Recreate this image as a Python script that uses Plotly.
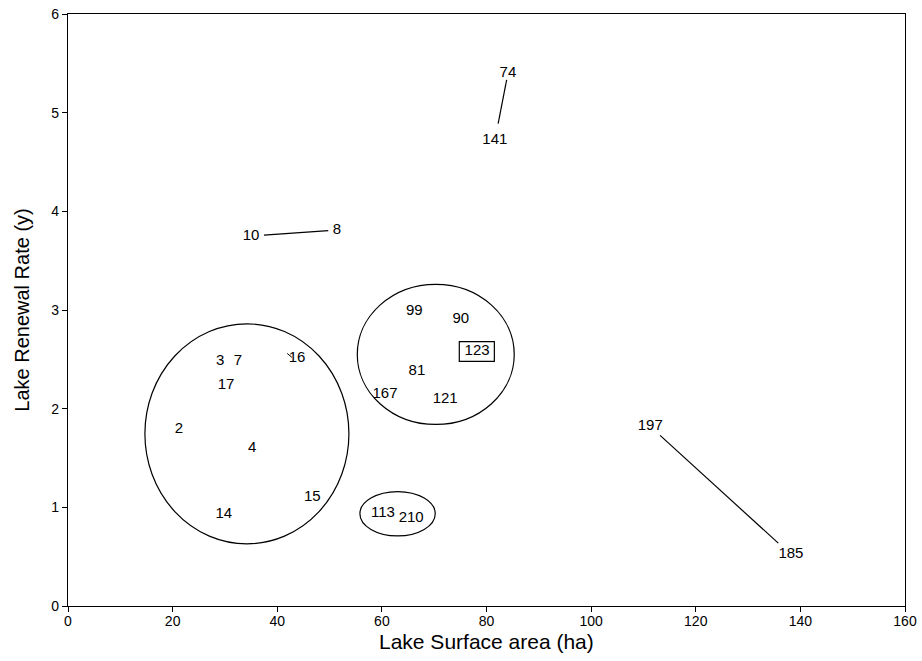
import plotly.graph_objects as go

# Lake labels and positions (surface area in ha, renewal rate in y)
lake_ids = ["74", "141", "10", "8", "99", "90", "123", "81", "167", "121",
            "3", "7", "16", "17", "2", "4", "15", "14", "113", "210", "197", "185"]
area_ha = [84.1, 81.6, 35.0, 51.4, 66.2, 75.1, 78.2, 66.7, 60.6, 72.1,
           29.1, 32.5, 43.8, 30.2, 21.2, 35.2, 46.7, 29.8, 60.2, 65.6, 111.3, 138.2]
renewal_y = [5.40, 4.72, 3.75, 3.81, 2.99, 2.91, 2.58, 2.38, 2.15, 2.10,
             2.48, 2.48, 2.51, 2.24, 1.79, 1.60, 1.10, 0.93, 0.94, 0.89, 1.82, 0.52]

# Leader lines between label pairs: (from, to, trim at start, trim at end) as segment fractions
links = [("141", "74", 0.25, 0.10), ("10", "8", 0.15, 0.10), ("197", "185", 0.07, 0.09)]

# Cluster ellipses (x0, x1, y0, y1)
clusters = [(14.7, 53.7, 0.63, 2.86), (55.3, 85.3, 1.84, 3.26), (55.8, 70.2, 0.71, 1.16)]
# Box around lake 123
boxed = [(74.8, 81.5, 2.48, 2.68)]

x_ticks = [0, 20, 40, 60, 80, 100, 120, 140, 160]
y_ticks = [0, 1, 2, 3, 4, 5, 6]

FONT = "Liberation Sans, Arial"

fig = go.Figure()
fig.add_trace(go.Scatter(
    x=area_ha, y=renewal_y, text=lake_ids, mode="text",
    textfont=dict(family=FONT, size=15, color="black"),
    hoverinfo="text", showlegend=False, cliponaxis=False))

pos = {k: (x, y) for k, x, y in zip(lake_ids, area_ha, renewal_y)}
for a, b, ta, tb in links:
    (xa, ya), (xb, yb) = pos[a], pos[b]
    dx, dy = xb - xa, yb - ya
    fig.add_shape(type="line", xref="x", yref="y",
                  x0=xa + dx * ta, y0=ya + dy * ta,
                  x1=xb - dx * tb, y1=yb - dy * tb,
                  line=dict(color="black", width=1.2))

# small tick by label 16
x16, y16 = pos["16"]
fig.add_shape(type="line", xref="x", yref="y", x0=x16 - 1.9, y0=y16 + 0.05,
              x1=x16 - 1.0, y1=y16 + 0.01, line=dict(color="black", width=1))

for x0, x1, y0, y1 in clusters:
    fig.add_shape(type="circle", xref="x", yref="y", x0=x0, x1=x1, y0=y0, y1=y1,
                  line=dict(color="black", width=1.2))
for x0, x1, y0, y1 in boxed:
    fig.add_shape(type="rect", xref="x", yref="y", x0=x0, x1=x1, y0=y0, y1=y1,
                  line=dict(color="black", width=1.2))

axis_common = dict(showline=True, linecolor="black", linewidth=1.2, mirror=True,
                   ticks="outside", ticklen=5, tickcolor="black", showgrid=False,
                   zeroline=False, automargin=False,
                   tickfont=dict(family=FONT, size=14, color="black"))

fig.update_layout(
    width=922, height=661,
    margin=dict(l=68, r=17, t=14, b=55),
    plot_bgcolor="white", paper_bgcolor="white",
    xaxis=dict(range=[0, 160], tickvals=x_ticks, ticklabelstandoff=-3, **axis_common),
    yaxis=dict(range=[0, 6], tickvals=y_ticks,
               title=dict(text="Lake Renewal Rate (y)", standoff=16,
                          font=dict(family=FONT, size=20, color="black")),
               **axis_common),
    annotations=[dict(text="Lake Surface area (ha)", xref="paper", yref="paper",
                      x=0.5, y=0, xanchor="center", yanchor="middle", yshift=-35,
                      showarrow=False, font=dict(family=FONT, size=21, color="black"))],
)

fig.write_html("out.html", config={"displayModeBar": False},
               post_script="document.body.style.margin='0px';document.body.style.overflow='hidden';")
